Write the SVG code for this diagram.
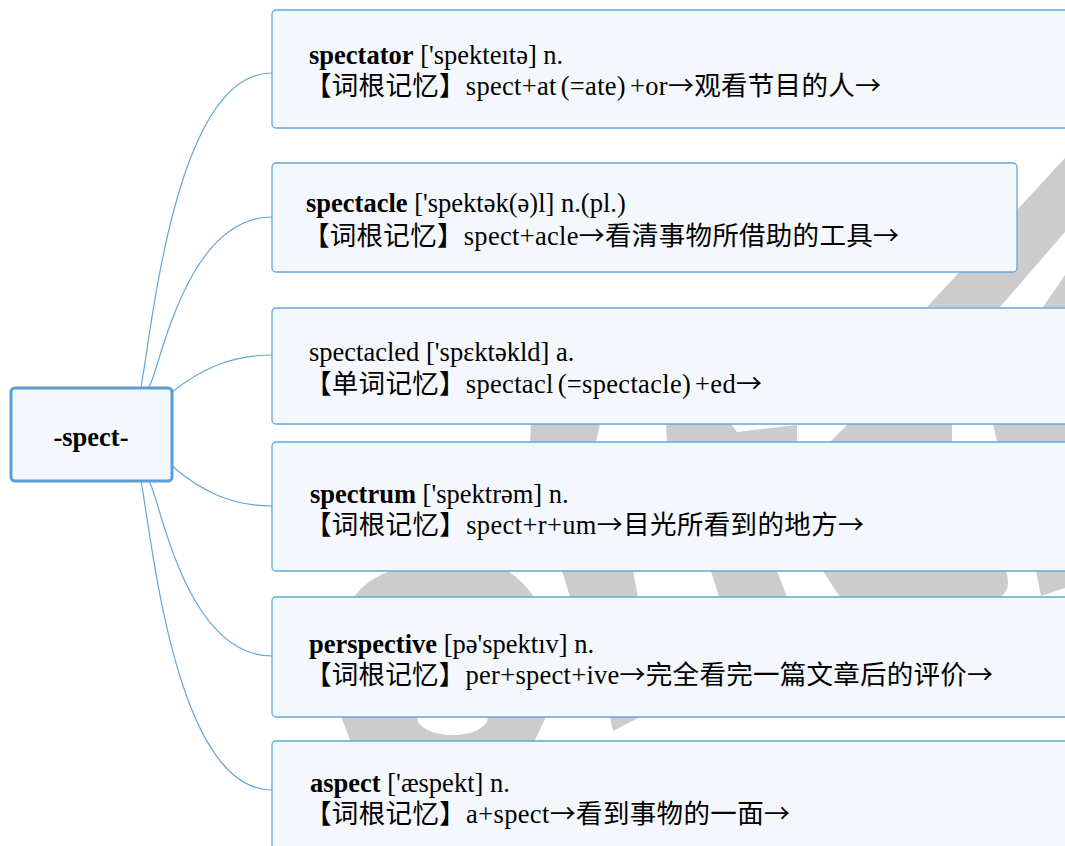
<svg xmlns="http://www.w3.org/2000/svg" width="1065" height="846" viewBox="0 0 1065 846">
<style>
.box{fill:#f4f8fd;stroke:#62a6dc;stroke-width:1.3}
.root{fill:#f4f8fd;stroke:#5a9fd4;stroke-width:3}
.t{font-family:"Liberation Serif","Noto Sans CJK SC",serif;font-size:26.5px;fill:#000}
.b{font-weight:bold}
.a{font-family:"Noto Sans CJK SC",sans-serif;font-size:26px}
.wm{fill:#cccccc}
.con{fill:none;stroke:#62a6dc;stroke-width:1.2}
</style>
<rect width="1065" height="846" fill="#ffffff"/>
<g id="watermark">
<polygon class="wm" points="1065,158 1065,232 1000,307 927,307"/>
<polygon class="wm" points="1065,275 1065,307 1043,307"/>
<polygon class="wm" points="531,424 600,424 596,442 530,442"/>
<polygon class="wm" points="666,424 731,424 737,432 797,425 797,442 667,442"/>
<polygon class="wm" points="848,424 952,424 952,442 830,442"/>
<polygon class="wm" points="993,424 1065,424 1065,442 997,442"/>
<path class="wm" d="M354,597 Q366,580 390,571 L508,571 Q524,582 534,597 Z"/>
<polygon class="wm" points="562,571 633,571 638,597 570,597"/>
<polygon class="wm" points="711,571 777,571 787,597 719,597"/>
<path class="wm" d="M823,571 L1006,571 Q1012,590 1000,597 L840,597 Q832,585 823,571 Z"/>
<polygon class="wm" points="1036,571 1065,571 1065,588 1041,596"/>
<path class="wm" fill-rule="evenodd" d="M341,717 L546,717 L534,742 L351,742 Z M417,717 A35,18 0 0 0 488,717 Z"/>
<polygon class="wm" points="610,717 640,717 613,731"/>
</g>
<g id="connectors">
<path class="con" d="M141,387 C152,330 175,73 272,73"/>
<path class="con" d="M149,387 C160,370 185,217 272,217"/>
<path class="con" d="M172,392 C200,370 230,355 272,355"/>
<path class="con" d="M172,466 C200,490 230,506 272,506"/>
<path class="con" d="M149,481 C160,498 185,656 272,656"/>
<path class="con" d="M141,481 C152,538 175,790 272,790"/>
</g>
<g id="root">
<rect class="root" x="11" y="388" width="161" height="93" rx="4"/>
<text class="t b" x="91" y="446" text-anchor="middle">-spect-</text>
</g>
<g id="node1">
<rect class="box" x="272" y="10" width="800" height="118" rx="4"/>
<text class="t" x="309" y="64"><tspan class="b">spectator</tspan> ['spekteıtə] n.</text>
<text class="t" x="305" y="95" textLength="576" lengthAdjust="spacing">【词根记忆】spect+at<tspan dx="4">(=ate)</tspan><tspan dx="4">+or</tspan><tspan class="a">→</tspan>观看节目的人<tspan class="a">→</tspan></text>
</g>
<g id="node2">
<rect class="box" x="272" y="163" width="745" height="109" rx="4"/>
<text class="t" x="306" y="212"><tspan class="b">spectacle</tspan> ['spektək(ə)l] n.(pl.)</text>
<text class="t" x="303" y="245" textLength="596" lengthAdjust="spacing">【词根记忆】spect+acle<tspan class="a">→</tspan>看清事物所借助的工具<tspan class="a">→</tspan></text>
</g>
<g id="node3">
<rect class="box" x="272" y="308" width="800" height="116" rx="4"/>
<text class="t" x="309" y="361">spectacled ['spɛktəkld] a.</text>
<text class="t" x="305" y="393" textLength="457" lengthAdjust="spacing">【单词记忆】spectacl<tspan dx="4">(=spectacle)</tspan><tspan dx="4">+ed</tspan><tspan class="a">→</tspan></text>
</g>
<g id="node4">
<rect class="box" x="272" y="442" width="800" height="129" rx="4"/>
<text class="t" x="310" y="503"><tspan class="b">spectrum</tspan> ['spektrəm] n.</text>
<text class="t" x="305" y="534" textLength="559" lengthAdjust="spacing">【词根记忆】spect+r+um<tspan class="a">→</tspan>目光所看到的地方<tspan class="a">→</tspan></text>
</g>
<g id="node5">
<rect class="box" x="272" y="597" width="800" height="120" rx="4"/>
<text class="t" x="309" y="653"><tspan class="b">perspective</tspan> [pə'spektıv] n.</text>
<text class="t" x="305" y="684" textLength="688" lengthAdjust="spacing">【词根记忆】per+spect+ive<tspan class="a">→</tspan>完全看完一篇文章后的评价<tspan class="a">→</tspan></text>
</g>
<g id="node6">
<rect class="box" x="272" y="741" width="800" height="120" rx="4"/>
<text class="t" x="310" y="792"><tspan class="b">aspect</tspan> ['æspekt] n.</text>
<text class="t" x="305" y="823" textLength="485" lengthAdjust="spacing">【词根记忆】a+spect<tspan class="a">→</tspan>看到事物的一面<tspan class="a">→</tspan></text>
</g>
</svg>
